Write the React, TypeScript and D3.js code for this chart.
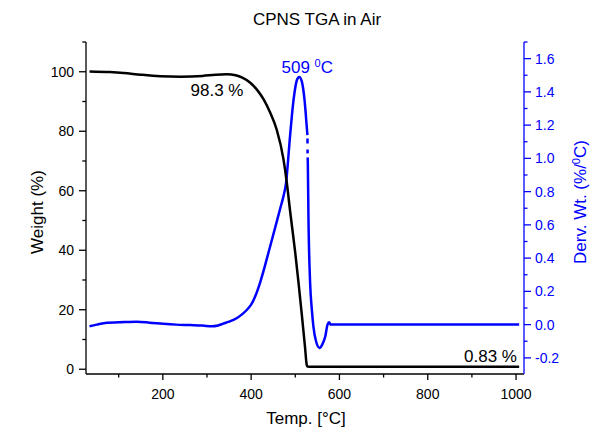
import React, { useEffect } from "react";
import * as d3 from "d3";

const tgaTemp = [34, 80, 111, 150, 194, 240, 290, 320, 345, 365, 380, 398, 413, 428, 443, 458, 473, 481, 488, 500, 507, 515, 522, 526, 528, 535, 600, 800, 1007];
const tgaWeight = [100.1, 99.9, 99.6, 99.0, 98.5, 98.35, 98.6, 99.0, 99.15, 98.8, 98.0, 96.3, 94.0, 90.8, 86.3, 80.5, 70.8, 62.5, 53.5, 39.0, 29.5, 18.0, 7.5, 1.4, 0.9, 0.83, 0.83, 0.83, 0.83];

// NaN marks a break in the plotted derivative line
const dtgTemp = [34, 50, 73, 100, 141, 170, 201, 230, 262, 290, 311, 325, 337, 350, 368, 380, 390, 395, 400, 410, 420, 443, 466, 473, 479, 488, 496, 503.5, 509, 515, 521, 526, 527.5, 527.55, 527.6, 527.7, 527.75, 527.8, 527.9, 527.95, 528.0, 528.4, 529.8, 533.6, 537.5, 541, 547, 555, 561, 568, 573, 576.7, 580, 600, 800, 1007];
const dtgValue = [-0.01, 0.0, 0.012, 0.014, 0.017, 0.012, 0.005, 0.0, -0.003, -0.006, -0.01, -0.005, 0.006, 0.018, 0.04, 0.063, 0.088, 0.103, 0.12, 0.175, 0.25, 0.47, 0.7, 0.77, 0.85, 1.13, 1.35, 1.47, 1.49, 1.46, 1.35, 1.19, 1.14, NaN, 1.12, 1.09, NaN, 1.054, 1.03, NaN, 1.006, 0.97, 0.65, 0.25, 0.09, -0.01, -0.1, -0.14, -0.12, -0.07, 0.0, 0.014, 0.0, 0.0, 0.0, 0.0];

const xTicks = [200, 400, 600, 800, 1000];
const xMinor = [100, 300, 500, 700, 900];
const yLTicks = [0, 20, 40, 60, 80, 100];
const yLMinor = [10, 30, 50, 70, 90, 110];
const yRTicks = [-0.2, 0, 0.2, 0.4, 0.6, 0.8, 1.0, 1.2, 1.4, 1.6];
const yRMinor = [-0.1, 0.1, 0.3, 0.5, 0.7, 0.9, 1.1, 1.3, 1.5, 1.7];

const BLUE = "#0000ff";
const FONT = "'Liberation Sans', Arial, sans-serif";

export default function App() {
  useEffect(() => {
    document.body.style.margin = "0";
  }, []);
  const W = 591, H = 430;
  const L = 86, R = 524, T = 42, B = 374;
  const x = d3.scaleLinear().domain([26, 1018]).range([L, R]);
  const yL = d3.scaleLinear().domain([-1.6, 110]).range([B, T]);
  const yR = d3.scaleLinear().domain([-0.297, 1.7]).range([B, T]);

  const tga = tgaTemp.map((t, i) => [t, tgaWeight[i]] as [number, number]);
  const dtg = dtgTemp.map((t, i) => [t, dtgValue[i]] as [number, number]);

  const lineL = d3.line<[number, number]>().x(d => x(d[0])).y(d => yL(d[1])).curve(d3.curveMonotoneX);
  const lineR = d3.line<[number, number]>()
    .defined(d => !isNaN(d[1]))
    .x(d => x(d[0])).y(d => yR(d[1])).curve(d3.curveMonotoneX);

  return (
    <svg width={W} height={H} style={{ display: "block", position: "absolute", left: 0, top: 0 }} fontFamily={FONT}>
      <rect x={0} y={0} width={W} height={H} fill="#fff" />
      <text x={317} y={25} fontSize={17} textAnchor="middle" fill="#000">CPNS TGA in Air</text>

      {/* curves */}
      <path d={lineR(dtg) || ""} fill="none" stroke={BLUE} strokeWidth={2.5} />
      <path d={lineL(tga) || ""} fill="none" stroke="#000" strokeWidth={2.5} />

      {/* bottom axis */}
      <line x1={L} x2={R} y1={B} y2={B} stroke="#000" strokeWidth={1.3} />
      {xTicks.map(v => (
        <g key={"xt" + v}>
          <line x1={x(v)} x2={x(v)} y1={B} y2={B + 6} stroke="#000" strokeWidth={1.3} />
          <text x={x(v)} y={399} fontSize={14} textAnchor="middle" fill="#000">{v}</text>
        </g>
      ))}
      {xMinor.map(v => (
        <line key={"xm" + v} x1={x(v)} x2={x(v)} y1={B} y2={B + 3.5} stroke="#000" strokeWidth={1.3} />
      ))}
      <text x={306} y={424} fontSize={17} textAnchor="middle" fill="#000">Temp. [°C]</text>

      {/* left axis */}
      <line x1={L} x2={L} y1={T} y2={B} stroke="#000" strokeWidth={1.3} />
      {yLTicks.map(v => (
        <g key={"yl" + v}>
          <line x1={L - 7} x2={L} y1={yL(v)} y2={yL(v)} stroke="#000" strokeWidth={1.3} />
          <text x={74} y={yL(v)} dy="0.36em" fontSize={14} textAnchor="end" fill="#000">{v}</text>
        </g>
      ))}
      {yLMinor.map(v => (
        <line key={"ylm" + v} x1={L - 3.7} x2={L} y1={yL(v)} y2={yL(v)} stroke="#000" strokeWidth={1.3} />
      ))}
      <text transform={`translate(43,212) rotate(-90)`} fontSize={17} textAnchor="middle" fill="#000">Weight (%)</text>

      {/* right axis */}
      <line x1={R} x2={R} y1={T} y2={B} stroke={BLUE} strokeWidth={1.3} />
      {yRTicks.map(v => (
        <g key={"yr" + v}>
          <line x1={R} x2={R + 7} y1={yR(v)} y2={yR(v)} stroke={BLUE} strokeWidth={1.3} />
          <text x={535} y={yR(v)} dy="0.36em" fontSize={14} textAnchor="start" fill={BLUE}>{v.toFixed(1)}</text>
        </g>
      ))}
      {yRMinor.map(v => (
        <line key={"yrm" + v} x1={R} x2={R + 3.5} y1={yR(v)} y2={yR(v)} stroke={BLUE} strokeWidth={1.3} />
      ))}
      <text transform={`translate(586,202) rotate(-90)`} fontSize={17} textAnchor="middle" fill={BLUE}>
        Derv. Wt. (%/<tspan fontSize={11} dy={-6}>0</tspan><tspan dy={6}>C)</tspan>
      </text>

      {/* annotations */}
      <text x={190.5} y={95.5} fontSize={17} fill="#000">98.3 %</text>
      <text x={281.5} y={72.5} fontSize={17} fill={BLUE}>
        509 <tspan fontSize={11} dy={-6}>0</tspan><tspan dy={6}>C</tspan>
      </text>
      <text x={464} y={361.5} fontSize={17} fill="#000">0.83 %</text>
    </svg>
  );
}
